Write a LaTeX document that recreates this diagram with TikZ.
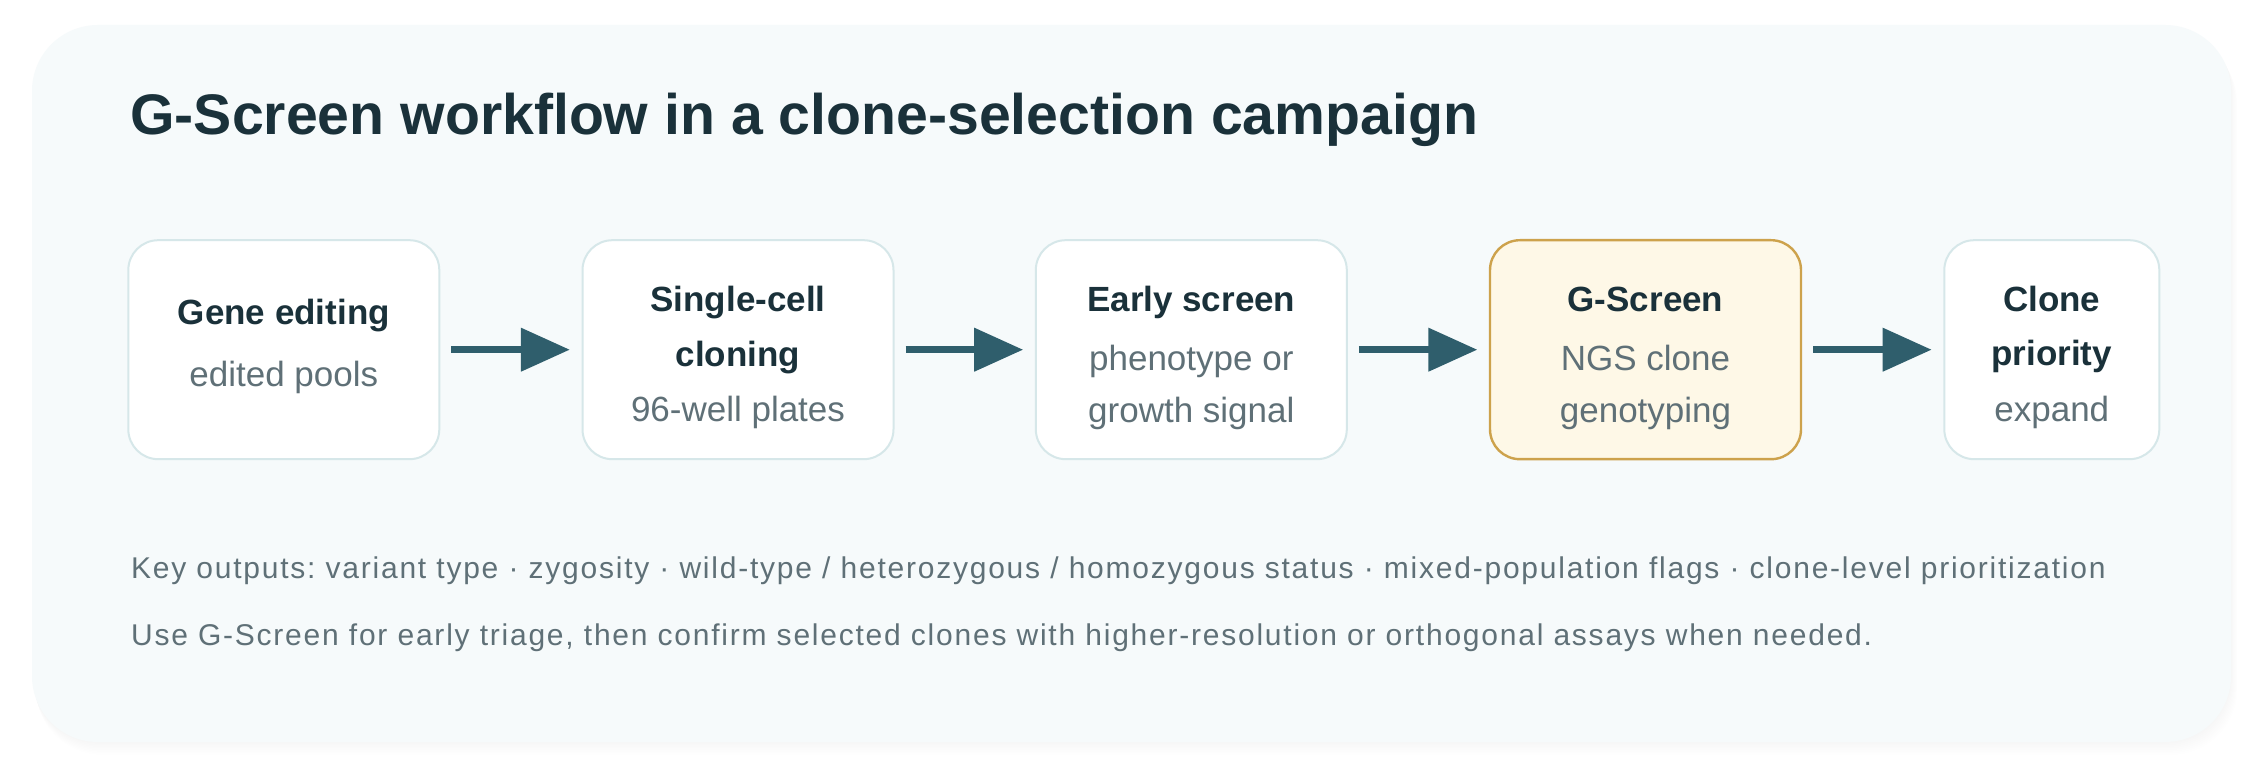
\documentclass[tikz,border=0pt]{standalone}
\usepackage{fontspec}
\setmainfont{Liberation Sans}
\newfontfamily\notefont[LetterSpace=5.9]{Liberation Sans}
\usetikzlibrary{arrows.meta}
\frenchspacing
\definecolor{panelc}{HTML}{F6FAFB}
\definecolor{boxline}{HTML}{D6E7E9}
\definecolor{hifill}{HTML}{FEF8E7}
\definecolor{hiline}{HTML}{CDA24C}
\definecolor{arrowc}{HTML}{2F5E6C}
\definecolor{darkc}{HTML}{1A313A}
\definecolor{subc}{HTML}{5F7077}
\begin{document}
\begin{tikzpicture}[x=0.5pt,y=-0.5pt,
  stepbox/.style={draw=boxline, line width=1pt, fill=white, rounded corners=15pt,
    minimum height=109.5pt, minimum width=155.5pt, inner sep=0pt, outer sep=0pt},
  hibox/.style={stepbox, draw=hiline, fill=hifill, line width=1.2pt},
  lastbox/.style={stepbox, minimum width=107.5pt},
  head/.style={font=\fontsize{17.5pt}{21pt}\selectfont\bfseries, text=darkc, anchor=base, inner sep=0pt},
  sub/.style={font=\fontsize{17.5pt}{21pt}\selectfont, text=subc, anchor=base, inner sep=0pt},
  note/.style={font=\notefont\fontsize{15pt}{18pt}\selectfont\frenchspacing, text=subc, anchor=base west, inner sep=0pt},
  flow/.style={draw=arrowc, line width=3.65pt, -{Triangle[length=24.5pt,width=21pt]},
    shorten <=6pt, shorten >=6.3pt}
]
\useasboundingbox (0,0) rectangle (2260,758);
\fill[white] (0,0) rectangle (2260,758);
% soft shadow
\foreach \i in {1,...,8}{
  \fill[black, opacity=0.004, rounded corners=33pt] (32+\i*0.5,25+\i*1.6) rectangle (2231+\i*0.8,742+\i*1.6);
}
\fill[panelc, rounded corners=33pt] (32,25) rectangle (2231,742);

\node[font=\fontsize{28.6pt}{34pt}\selectfont\bfseries, text=darkc, anchor=base west, inner sep=0pt] (title) at (130,135) {G-Screen workflow in a clone-selection campaign};

\node[stepbox] (b1) at (283.8,349.7) {};
\node[stepbox] (b2) at (738,349.7) {};
\node[stepbox] (b3) at (1191.3,349.7) {};
\node[hibox] (b4) at (1645.5,349.7) {};
\node[lastbox] (b5) at (2051.8,349.7) {};

\node[head] (t1a) at (283.8,325) {Gene editing};
\node[sub] (t1b) at (283.8,386.5) {edited pools};

\node[head] (t2a) at (738,311.7) {Single-cell};
\node[head] (t2b) at (738,366.5) {cloning};
\node[sub] (t2c) at (738,422) {96-well plates};

\node[head] (t3a) at (1191.3,311.7) {Early screen};
\node[sub] (t3b) at (1191.3,371) {phenotype or};
\node[sub] (t3c) at (1191.3,422.5) {growth signal};

\node[head] (t4a) at (1645.5,311.7) {G-Screen};
\node[sub] (t4b) at (1645.5,370.5) {NGS clone};
\node[sub] (t4c) at (1645.5,422.5) {genotyping};

\node[head] (t5a) at (2051.8,311.7) {Clone};
\node[head] (t5b) at (2051.8,366) {priority};
\node[sub] (t5c) at (2051.8,422) {expand};

\draw[flow] (b1) -- (b2);
\draw[flow] (b2) -- (b3);
\draw[flow] (b3) -- (b4);
\draw[flow] (b4) -- (b5);

\node[note] (n1) at (130.7,579) {Key outputs: variant type · zygosity · wild-type / heterozygous / homozygous status · mixed-population flags · clone-level prioritization};
\node[note] (n2) at (130.7,645.7) {Use G-Screen for early triage, then confirm selected clones with higher-resolution or orthogonal assays when needed.};
\end{tikzpicture}
\end{document}
